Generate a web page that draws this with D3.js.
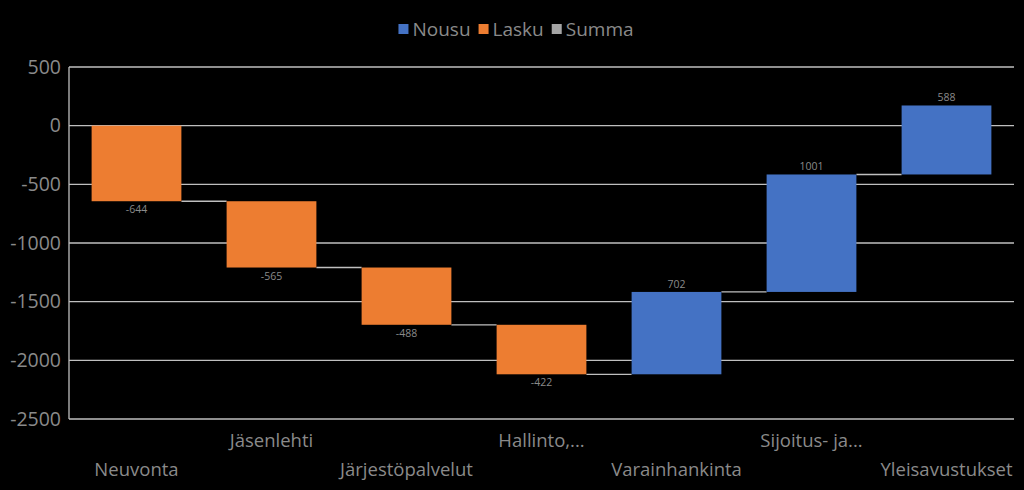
<!DOCTYPE html>
<html><head><meta charset="utf-8">
<script src="https://cdn.jsdelivr.net/npm/d3@7"></script>
<style>html,body{margin:0;padding:0;background:#000;}svg{display:block;}</style>
</head><body>
<svg id="chart" width="1024" height="490"></svg>
<script>
const categories = ["Neuvonta","Jäsenlehti","Järjestöpalvelut","Hallinto,...","Varainhankinta","Sijoitus- ja...","Yleisavustukset"];
const changes = [-644,-565,-488,-422,702,1001,588];
const yTicks = [500,0,-500,-1000,-1500,-2000,-2500];
const legendLabels = ["Nousu","Lasku","Summa"];
const legendColors = ["#4472C4","#ED7D31","#A5A5A5"];

const W=1024,H=490, L=69, R=1014, T=67, B=419;
const svg=d3.select("#chart");
svg.append("rect").attr("width",W).attr("height",H).attr("fill","#000");
const font="'Open Sans', sans-serif";
const textCol="#8a8a8a";

const x=d3.scaleBand().domain(categories).range([L,R]).paddingInner(0.335).paddingOuter(0.1675);
const y=d3.scaleLinear().domain([-2500,500]).range([B,T]);

let acc=0;
const bars=changes.map((v,i)=>{const s=acc; acc+=v; return {cat:categories[i],v,start:s,end:acc};});

svg.append("g").selectAll("line").data(yTicks).join("line")
 .attr("x1",L).attr("x2",R).attr("y1",d=>y(d)).attr("y2",d=>y(d))
 .attr("stroke","#bfbfbf").attr("stroke-width",1.3);
svg.append("line").attr("x1",L).attr("x2",L).attr("y1",T).attr("y2",B).attr("stroke","#bfbfbf").attr("stroke-width",1.3);

svg.append("g").selectAll("text").data(yTicks).join("text")
 .attr("x",L-8).attr("y",d=>y(d)).attr("dy","0.35em").attr("text-anchor","end")
 .attr("fill",textCol).attr("font-family",font).attr("font-size",19.5).text(d=>d);

svg.append("g").selectAll("line").data(bars.slice(0,-1)).join("line")
 .attr("x1",(d)=>x(d.cat)+x.bandwidth()).attr("x2",(d,i)=>x(categories[i+1]))
 .attr("y1",d=>y(d.end)).attr("y2",d=>y(d.end))
 .attr("stroke","#bfbfbf").attr("stroke-width",1.3);

svg.append("g").selectAll("rect").data(bars).join("rect")
 .attr("x",d=>x(d.cat)).attr("width",x.bandwidth())
 .attr("y",d=>y(Math.max(d.start,d.end))).attr("height",d=>Math.abs(y(d.start)-y(d.end)))
 .attr("fill",d=>d.v<0?legendColors[1]:legendColors[0]);

svg.append("g").selectAll("text").data(bars).join("text")
 .attr("x",d=>x(d.cat)+x.bandwidth()/2)
 .attr("y",d=>d.v<0? y(d.end)+12 : y(d.end)-4)
 .attr("text-anchor","middle").attr("fill",textCol).attr("font-family",font).attr("font-size",10.5)
 .text(d=>d.v);

svg.append("g").selectAll("text").data(categories).join("text")
 .attr("x",d=>x(d)+x.bandwidth()/2)
 .attr("y",(d,i)=> i%2===1 ? 447 : 476)
 .attr("text-anchor","middle").attr("fill",textCol).attr("font-family",font).attr("font-size",18.5)
 .text(d=>d);

const lg=svg.append("g");
const items=[];
let lx=0;
const tmp=svg.append("text").attr("font-family",font).attr("font-size",19);
legendLabels.forEach((t,i)=>{tmp.text(t); const w=tmp.node().getComputedTextLength(); items.push({t,c:legendColors[i],x:lx}); lx+=14+w+8;});
tmp.remove();
const total=lx-8; const ox=516-total/2;
const g=lg.selectAll("g").data(items).join("g").attr("transform",d=>`translate(${ox+d.x},29)`);
g.append("rect").attr("x",0).attr("y",-5).attr("width",10).attr("height",10).attr("fill",d=>d.c);
g.append("text").attr("x",14).attr("dy","0.35em").attr("fill",textCol).attr("font-family",font).attr("font-size",19).text(d=>d.t);
</script>
</body></html>
